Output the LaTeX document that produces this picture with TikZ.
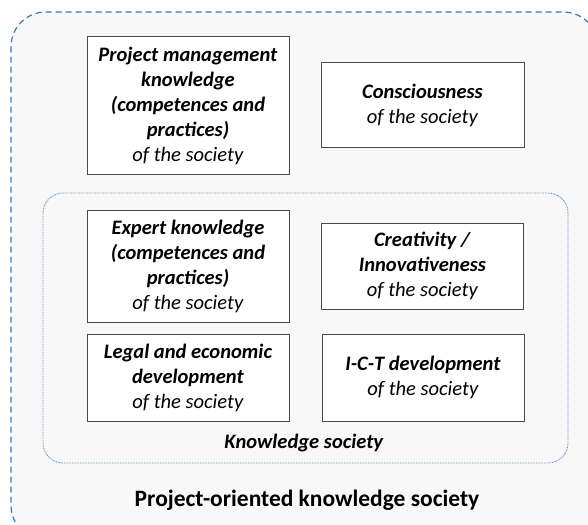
\documentclass[tikz,border=0pt]{standalone}
\usepackage{fontspec}
\setmainfont{Carlito}
\definecolor{outerblue}{HTML}{3E78B2}
\definecolor{innerblue}{HTML}{5E95CE}
\definecolor{boxline}{HTML}{4A4A4A}
\definecolor{outerfill}{HTML}{F8F8F8}
\tikzset{
  factorbox/.style={draw=boxline, line width=0.75pt, fill=white, align=center,
    inner sep=0pt, font=\fontsize{15.4pt}{18.75pt}\selectfont},
  outerframe/.style={draw=outerblue, dash pattern=on 4.5pt off 3pt, line width=0.9pt, fill=outerfill},
  innerframe/.style={draw=innerblue, dash pattern=on 0.6pt off 0.6pt, line width=0.7pt, rounded corners=15pt},
}
\newcommand{\bi}[1]{\textbf{\textit{#1}}}
\begin{document}
\begin{tikzpicture}[x=0.75pt, y=-0.75pt]
\useasboundingbox (0,0) rectangle (588,524);
\fill[white] (0,0) rectangle (588,524);
% outer frame
\draw[outerframe, rounded corners=26pt] (11,12) rectangle (598,540);
% inner frame
\draw[innerframe] (43,193) rectangle (568,463);
% boxes
\node[factorbox, minimum width=151.5pt, minimum height=102.75pt] (pm) at (188,105.5)
  {\bi{Project management}\\ \bi{knowledge}\\ \bi{(competences and}\\ \bi{practices)}\\ \textit{of the society}};
\node[factorbox, minimum width=152.25pt, minimum height=63pt] (cons) at (422.5,105)
  {\bi{Consciousness}\\ \textit{of the society}};
\node[factorbox, minimum width=151.5pt, minimum height=84pt] (expert) at (188,266)
  {\bi{Expert knowledge}\\ \bi{(competences and}\\ \bi{practices)}\\ \textit{of the society}};
\node[factorbox, minimum width=151.5pt, minimum height=64.5pt] (creat) at (422.5,266)
  {\bi{Creativity /}\\ \bi{Innovativeness}\\ \textit{of the society}};
\node[factorbox, minimum width=151.5pt, minimum height=65.25pt] (legal) at (188,377.5)
  {\bi{Legal and economic}\\ \bi{development}\\ \textit{of the society}};
\node[factorbox, minimum width=151.5pt, minimum height=65.25pt] (ict) at (423,377.5)
  {\bi{I-C-T development}\\ \textit{of the society}};
% labels
\node[font=\fontsize{15.4pt}{18pt}\selectfont] (ks) at (304,443) {\bi{Knowledge society}};
\node[font=\fontsize{17.6pt}{21pt}\selectfont\bfseries] (pok) at (307,500) {Project-oriented knowledge society};
\end{tikzpicture}
\end{document}
